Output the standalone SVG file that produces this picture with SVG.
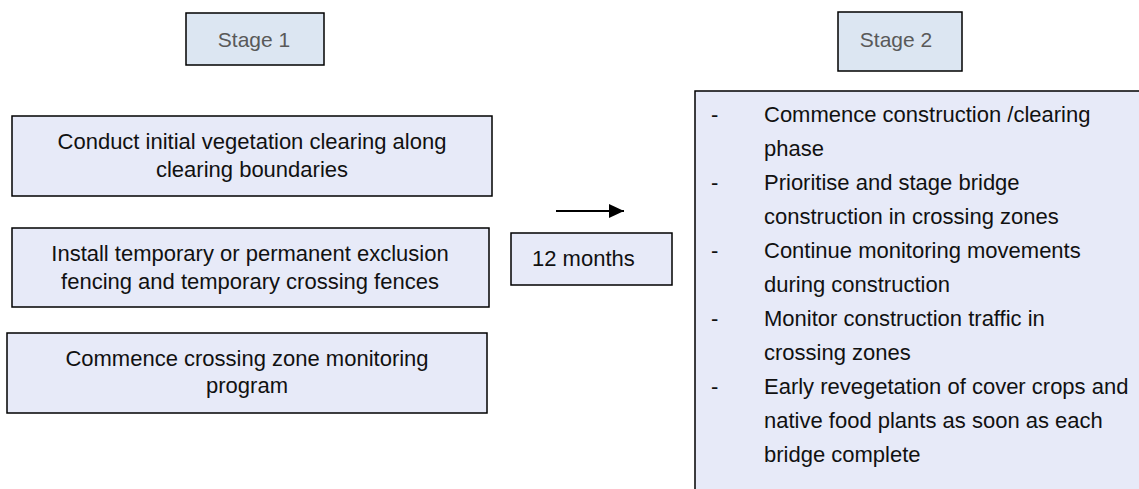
<svg xmlns="http://www.w3.org/2000/svg" width="1139" height="489" viewBox="0 0 1139 489">
<defs>
<style>
.stage{fill:#dce6f2;stroke:#000;stroke-width:1.5}
.box{fill:#e7eaf8;stroke:#000;stroke-width:1.5}
.st{font-family:"Liberation Sans",Arial,sans-serif;font-size:21px;fill:#595959;text-anchor:middle}
.t{font-family:"Liberation Sans",Arial,sans-serif;font-size:22px;fill:#111}
.c{text-anchor:middle}
</style>
<marker id="ah" markerWidth="8" markerHeight="8" refX="7.5" refY="3.5" orient="auto" markerUnits="strokeWidth"><path d="M0,0 L7.5,3.5 L0,7 Z" fill="#000"/></marker>
</defs>
<rect width="1139" height="489" fill="#fff"/>
<g id="stage1"><rect class="stage" x="186" y="13" width="138" height="52"/><text class="st" x="254" y="47">Stage 1</text></g>
<g id="stage2"><rect class="stage" x="838" y="12" width="124" height="59"/><text class="st" x="896" y="47">Stage 2</text></g>
<g id="n1"><rect class="box" x="12" y="116" width="480" height="80"/><text class="t c" x="252" y="149">Conduct initial vegetation clearing along</text><text class="t c" x="252" y="177">clearing boundaries</text></g>
<g id="n2"><rect class="box" x="12" y="228" width="477" height="79"/><text class="t c" x="250" y="261">Install temporary or permanent exclusion</text><text class="t c" x="250" y="289">fencing and temporary crossing fences</text></g>
<g id="n3"><rect class="box" x="7" y="333" width="480" height="80"/><text class="t c" x="247" y="366">Commence crossing zone monitoring</text><text class="t c" x="247" y="393">program</text></g>
<g id="months"><rect class="box" x="511" y="233" width="161" height="52"/><text class="t" x="532" y="266">12 months</text></g>
<g id="stage2list"><rect class="box" x="695" y="91" width="460" height="420"/>
<g class="t">
<text x="711" y="122">-</text><text x="764" y="122">Commence construction /clearing</text>
<text x="764" y="156">phase</text>
<text x="711" y="190">-</text><text x="764" y="190">Prioritise and stage bridge</text>
<text x="764" y="224">construction in crossing zones</text>
<text x="711" y="258">-</text><text x="764" y="258">Continue monitoring movements</text>
<text x="764" y="292">during construction</text>
<text x="711" y="326">-</text><text x="764" y="326">Monitor construction traffic in</text>
<text x="764" y="360">crossing zones</text>
<text x="711" y="394">-</text><text x="764" y="394">Early revegetation of cover crops and</text>
<text x="764" y="428">native food plants as soon as each</text>
<text x="764" y="462">bridge complete</text>
</g></g>
<g id="connectors"><line x1="556" y1="211" x2="624" y2="211" stroke="#000" stroke-width="2" marker-end="url(#ah)"/></g>
</svg>
